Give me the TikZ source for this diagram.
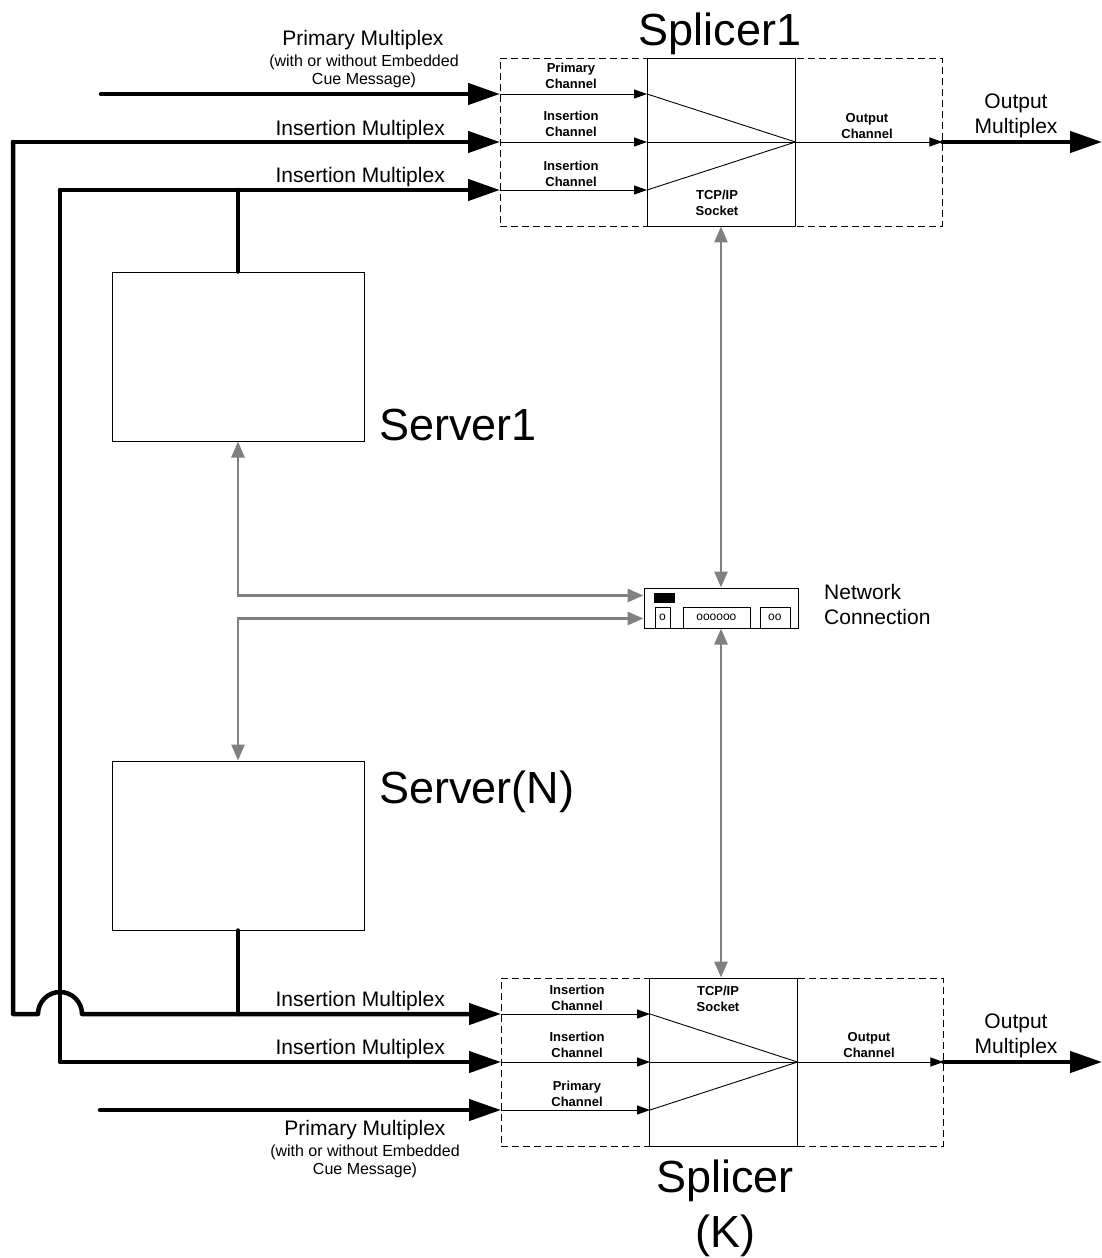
\documentclass[tikz,border=0pt]{standalone}
\usepackage{fontspec}
\setmainfont{Liberation Sans}
\usetikzlibrary{arrows.meta, positioning, shapes}

\begin{document}
\begin{tikzpicture}[
    x=1pt, y=-1pt,
    mux/.style={line width=4.5pt, line cap=round, line join=round, -{Triangle[length=32pt, width=21pt]}},
    bus/.style={line width=4.5pt, line cap=round, line join=round},
    chan/.style={line width=0.9pt, -{Triangle[length=13pt, width=9pt]}},
    net/.style={line width=2.8pt, gray, {Triangle[length=16pt, width=13pt]}-{Triangle[length=16pt, width=13pt]}},
    splbox/.style={draw, line width=0.9pt, dash pattern=on 7pt off 4pt, minimum width=442pt, minimum height=168pt, inner sep=0pt},
    corebox/.style={draw, line width=0.9pt, minimum width=148pt, minimum height=168pt, inner sep=0pt},
    srvbox/.style={draw, line width=1pt, minimum width=252pt, minimum height=169pt, inner sep=0pt},
    chanlab/.style={font=\fontsize{13}{16}\selectfont\bfseries, align=center, inner sep=0pt},
    muxlab/.style={font=\fontsize{21}{25}\selectfont, align=center, inner sep=0pt},
    notelab/.style={font=\fontsize{16}{18}\selectfont, align=center, inner sep=0pt},
    biglab/.style={font=\fontsize{45}{55}\selectfont, align=center, inner sep=0pt},
    port/.style={draw, line width=0.8pt, minimum height=21pt, inner sep=0pt, font=\fontsize{12}{12}\selectfont, anchor=south west},
]
    \useasboundingbox (0,0) rectangle (1102,1258);

    % Splicers
    \node[splbox] (sp1) at (721,142) {};
    \node[corebox] (core1) at (721,142) {};
    \node[splbox] (spK) at (722,1062) {};
    \node[corebox] (coreK) at (723,1062) {};

    \node[biglab, anchor=base] (sp1lab) at (720,45) {Splicer1};
    \node[biglab] (spKlab) at (725,1208) {Splicer\\(K)};

    % Channels
    \foreach \y [count=\i] in {94,142,190} {
        \coordinate (s1in\i) at (500,\y);
        \coordinate (c1in\i) at (647,\y);
        \draw[chan] (s1in\i) -- (c1in\i);
        \draw[line width=0.9pt] (c1in\i) -- (core1.east);
    }
    \foreach \y [count=\i] in {1014,1062,1110} {
        \coordinate (sKin\i) at (501,\y);
        \coordinate (cKin\i) at (650,\y);
        \draw[chan] (sKin\i) -- (cKin\i);
        \draw[line width=0.9pt] (cKin\i) -- (coreK.east);
    }

    \node[chanlab] (l1a) at (571,76) {Primary\\Channel};
    \node[chanlab] (l1b) at (571,124) {Insertion\\Channel};
    \node[chanlab] (l1c) at (571,174) {Insertion\\Channel};
    \node[chanlab] (l1s) at (717,203) {TCP/IP\\Socket};
    \node[chanlab] (l1o) at (867,126) {Output\\Channel};

    \node[chanlab] (lKa) at (577,998) {Insertion\\Channel};
    \node[chanlab] (lKb) at (577,1045) {Insertion\\Channel};
    \node[chanlab] (lKc) at (577,1094) {Primary\\Channel};
    \node[chanlab] (lKs) at (718,999) {TCP/IP\\Socket};
    \node[chanlab] (lKo) at (869,1045) {Output\\Channel};

    % Outputs
    \coordinate (out1) at (1102,142);
    \coordinate (outK) at (1102,1062);
    \draw[chan] (core1.east) -- (sp1.east);
    \draw[mux] (sp1.east) -- (out1);
    \draw[chan] (coreK.east) -- (spK.east);
    \draw[mux] (spK.east) -- (outK);
    \node[muxlab] (o1lab) at (1016,116) {Output\\Multiplex};
    \node[muxlab] (oKlab) at (1016,1036) {Output\\Multiplex};

    % Servers
    \node[srvbox] (srv1) at (238,356.5) {};
    \node[srvbox] (srvN) at (238,845.5) {};
    \node[biglab, anchor=base west] (srv1lab) at (379,440) {Server1};
    \node[biglab, anchor=base west] (srvNlab) at (379,803) {Server(N)};

    % Multiplex inputs
    \coordinate (prim1) at (101,94);
    \coordinate (primK) at (100,1110);
    \coordinate (busA) at (13,142);
    \coordinate (busB) at (60,190);
    \coordinate (hopL) at (38,1014);

    \draw[mux] (prim1) -- (s1in1);
    \draw[mux] (busA) -- (s1in2);
    \draw[mux] (busB) -- (s1in3);
    \draw[mux] (busA) |- (hopL) arc[start angle=180, end angle=0, radius=22pt] -- (sKin1);
    \draw[mux] (busB) |- (sKin2);
    \draw[mux] (primK) -- (sKin3);
    \draw[bus] (srv1.north) -- (srv1.north |- s1in3);
    \draw[bus] (srvN.south) -- (srvN.south |- sKin1);

    \node[muxlab, anchor=base] (p1lab) at (363,45) {Primary Multiplex};
    \node[notelab] (p1note) at (364,71) {(with or without Embedded\\Cue Message)};
    \node[muxlab, anchor=base east] (i1lab) at (445,135) {Insertion Multiplex};
    \node[muxlab, anchor=base east] (i2lab) at (445,182) {Insertion Multiplex};
    \node[muxlab, anchor=base east] (i3lab) at (445,1006) {Insertion Multiplex};
    \node[muxlab, anchor=base east] (i4lab) at (445,1054) {Insertion Multiplex};
    \node[muxlab, anchor=base] (pKlab) at (365,1135) {Primary Multiplex};
    \node[notelab] (pKnote) at (365,1161) {(with or without Embedded\\Cue Message)};

    % Network connection
    \node[draw, line width=1pt, minimum width=154pt, minimum height=40pt, inner sep=0pt] (hub) at (721,608) {};
    \node[fill=black, minimum width=21pt, minimum height=10pt, inner sep=0pt, anchor=north west] (led) at ([xshift=10pt, yshift=-5pt]hub.north west) {};
    \node[port, minimum width=15pt] (port1) at ([xshift=11pt]hub.south west) {o};
    \node[port, minimum width=67pt] (port2) at ([xshift=39pt]hub.south west) {oooooo};
    \node[port, minimum width=30pt] (port3) at ([xshift=116pt]hub.south west) {oo};
    \node[muxlab, anchor=west, align=left] (hublab) at (824,604) {Network\\Connection};

    \coordinate (hubA) at ([yshift=-8pt]hub.north west);
    \coordinate (hubB) at ([yshift=10pt]hub.south west);
    \draw[net] (core1.south) -- (hub.north);
    \draw[net] (hub.south) -- (hub.south |- coreK.north);
    \draw[net] (srv1.south) |- (hubA);
    \draw[net] (srvN.north) |- (hubB);

\end{tikzpicture}
\end{document}
